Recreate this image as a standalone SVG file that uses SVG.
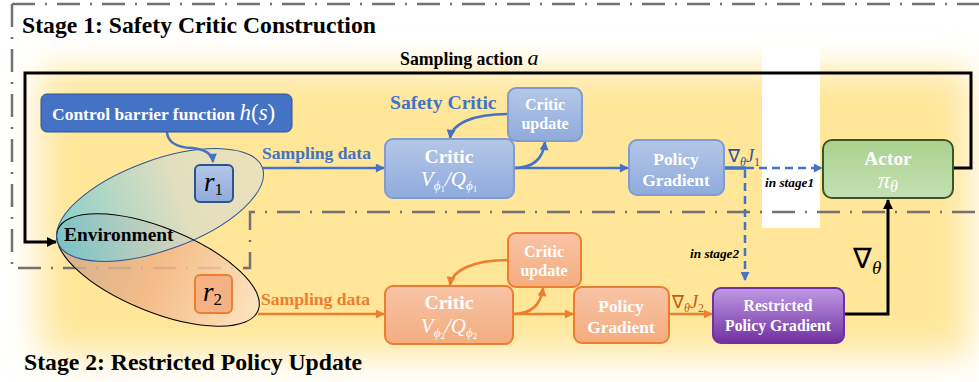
<svg xmlns="http://www.w3.org/2000/svg" width="979" height="382" viewBox="0 0 979 382">
<defs>
<style>
.dd{fill:none;stroke:#767171;stroke-width:2.5;stroke-dasharray:23 10 2 10}
.bl{fill:none;stroke:#4472C4;stroke-width:2.5}
.or{fill:none;stroke:#ED7D31;stroke-width:2.5}
.bk{fill:none;stroke:#000;stroke-width:3}
</style>
<filter id="blur" x="-10%" y="-20%" width="120%" height="140%"><feGaussianBlur stdDeviation="18"/></filter>
<linearGradient id="gBlue" x1="0" y1="0" x2="0" y2="1"><stop offset="0" stop-color="#B4C7E7"/><stop offset="1" stop-color="#8FAADC"/></linearGradient>
<linearGradient id="gOr" x1="0" y1="0" x2="0" y2="1"><stop offset="0" stop-color="#F8C4A6"/><stop offset="1" stop-color="#F4AC7E"/></linearGradient>
<linearGradient id="gGr" x1="0" y1="0" x2="0" y2="1"><stop offset="0" stop-color="#A9D18E"/><stop offset="1" stop-color="#C5E0B4"/></linearGradient>
<linearGradient id="gPu" x1="0" y1="0" x2="0" y2="1"><stop offset="0" stop-color="#C09AE6"/><stop offset="1" stop-color="#7030A0"/></linearGradient>
<linearGradient id="gE1" x1="0" y1="0" x2="1" y2="0"><stop offset="0" stop-color="#5CC8DA"/><stop offset="0.6" stop-color="#D8DCCB"/><stop offset="1" stop-color="#E4DFC4"/></linearGradient>
<linearGradient id="gE2" x1="0" y1="0" x2="1" y2="0"><stop offset="0" stop-color="#C9A88C"/><stop offset="0.5" stop-color="#F2B585"/><stop offset="1" stop-color="#FCE3C4"/></linearGradient>
<marker id="aB" viewBox="0 0 10 10" refX="9" refY="5" markerWidth="10" markerHeight="9" markerUnits="userSpaceOnUse" orient="auto"><path d="M0,0 L10,5 L0,10 z" fill="#4472C4"/></marker>
<marker id="aO" viewBox="0 0 10 10" refX="9" refY="5" markerWidth="10" markerHeight="9" markerUnits="userSpaceOnUse" orient="auto"><path d="M0,0 L10,5 L0,10 z" fill="#ED7D31"/></marker>
<marker id="aK" viewBox="0 0 10 10" refX="9" refY="5" markerWidth="11" markerHeight="10" markerUnits="userSpaceOnUse" orient="auto"><path d="M0,0 L10,5 L0,10 z" fill="#000"/></marker>
</defs>

<rect width="979" height="382" fill="#fff"/>
<!-- background glow -->
<rect x="40" y="70" width="930" height="285" fill="#FFE699" filter="url(#blur)"/>
<rect x="762" y="45" width="58" height="183" fill="#fff"/>

<!-- stage frames -->
<g id="stage1-frame">
<path class="dd" d="M12,4 L979,4 M12,4 L12,268 L250,268 L250,212 L979,212"/>
<text font-family="Liberation Serif" font-weight="bold" x="22" y="33" font-size="23.7">Stage 1: Safety Critic Construction</text>
</g>
<g id="stage2-title">
<text font-family="Liberation Serif" font-weight="bold" x="24" y="370" font-size="23.7">Stage 2: Restricted Policy Update</text>
</g>

<!-- environment ellipses -->
<g id="environment">
<ellipse cx="158" cy="270" rx="108" ry="42" transform="rotate(22 158 270)" fill="url(#gE2)" fill-opacity="0.85"/>
<ellipse cx="160" cy="205" rx="109" ry="45" transform="rotate(-20 160 205)" fill="url(#gE1)" fill-opacity="0.75"/>
<ellipse cx="158" cy="270" rx="108" ry="42" transform="rotate(22 158 270)" fill="none" stroke="#000" stroke-width="1"/>
<ellipse cx="160" cy="205" rx="109" ry="45" transform="rotate(-20 160 205)" fill="none" stroke="#2F5597" stroke-width="1"/>
<text font-family="Liberation Serif" font-weight="bold" x="64" y="241" font-size="19.4">Environment</text>
</g>

<!-- connectors -->
<g id="connectors">
<path class="bk" d="M953,168 L971,168 L971,73 L25,73 L25,242 L56,242" marker-end="url(#aK)"/>
<path class="bk" d="M844,314 L888,314 L888,200" marker-end="url(#aK)"/>
<path class="bl" d="M167,132 Q168,147 192,148 Q212,150 213,162" marker-end="url(#aB)"/>
<path class="bl" d="M263,168 L384,168" marker-end="url(#aB)"/>
<path class="bl" d="M508,114 C472,114 452,124 450,138" marker-end="url(#aB)"/>
<path class="bl" d="M514,168 C533,168 543,159 545,142" marker-end="url(#aB)"/>
<path class="bl" d="M514,168 L628,168" marker-end="url(#aB)"/>
<path d="M724,168 L746,168" stroke="#4472C4" stroke-width="3.5" fill="none"/>
<path class="bl" d="M746,168 L822,168" stroke-dasharray="8 5" marker-end="url(#aB)"/>
<path class="bl" d="M745,170 L745,280" stroke-dasharray="8 5" marker-end="url(#aB)"/>
<path class="or" d="M258,314 L384,314" marker-end="url(#aO)"/>
<path class="or" d="M508,260 C472,260 452,271 450,285" marker-end="url(#aO)"/>
<path class="or" d="M513,314 C532,314 541,304 543,288" marker-end="url(#aO)"/>
<path class="or" d="M513,314 L573,314" marker-end="url(#aO)"/>
<path class="or" d="M669,314 L712,314" marker-end="url(#aO)"/>
</g>

<!-- labels -->
<g id="labels">
<text font-family="Liberation Serif" font-weight="bold" x="400" y="65" font-size="17.8">Sampling action <tspan font-style="italic" font-weight="normal" font-size="22">a</tspan></text>
<text font-family="Liberation Serif" font-weight="bold" x="390" y="109" font-size="19.7" fill="#4472C4">Safety Critic</text>
<text font-family="Liberation Serif" font-weight="bold" x="262" y="159" font-size="17.6" fill="#4472C4">Sampling data</text>
<text font-family="Liberation Serif" font-weight="bold" x="261" y="305" font-size="17.6" fill="#ED7D31">Sampling data</text>
<text font-family="Liberation Serif" font-style="italic" x="728" y="162" font-size="18" fill="#2F5597"><tspan font-style="normal">∇</tspan><tspan font-size="12" dy="4">θ</tspan><tspan dy="-4">J</tspan><tspan font-size="12" dy="4" font-style="normal">1</tspan></text>
<text font-family="Liberation Serif" font-style="italic" x="672" y="308" font-size="18" fill="#C55A11"><tspan font-style="normal">∇</tspan><tspan font-size="12" dy="4">θ</tspan><tspan dy="-4">J</tspan><tspan font-size="12" dy="4" font-style="normal">2</tspan></text>
<text font-family="Liberation Serif" font-weight="bold" font-style="italic" x="765" y="187" font-size="13.3">in stage1</text>
<text font-family="Liberation Serif" font-weight="bold" font-style="italic" x="690" y="258" font-size="13.3">in stage2</text>
<text font-family="Liberation Serif" x="853" y="268" font-size="28">∇<tspan font-size="19" dy="6" font-style="italic">θ</tspan></text>
</g>

<!-- nodes -->
<g id="cbf">
<rect x="41" y="94" width="251" height="38" rx="6" fill="#4472C4" stroke="#2F528F" stroke-width="1"/>
<text font-family="Liberation Serif" font-weight="bold" fill="#fff" x="52" y="120" font-size="17.5">Control barrier function <tspan font-style="italic" font-weight="normal" font-size="23">h</tspan><tspan font-weight="normal" font-size="23">(</tspan><tspan font-style="italic" font-weight="normal" font-size="23">s</tspan><tspan font-weight="normal" font-size="23">)</tspan></text>
</g>
<g id="r1">
<rect x="195" y="165" width="38" height="37" rx="5" fill="url(#gBlue)" stroke="#2F528F" stroke-width="2"/>
<text font-family="Liberation Serif" font-style="italic" x="204" y="191" font-size="27">r<tspan font-size="17" dy="4" font-style="normal">1</tspan></text>
</g>
<g id="r2">
<rect x="195" y="275" width="37" height="38" rx="5" fill="#F4B183" stroke="#ED7D31" stroke-width="2"/>
<text font-family="Liberation Serif" font-style="italic" x="203" y="301" font-size="27">r<tspan font-size="17" dy="4" font-style="normal">2</tspan></text>
</g>
<g id="critic1">
<rect x="385" y="139" width="129" height="59" rx="8" fill="url(#gBlue)" stroke="#7F9CD0" stroke-width="2"/>
<text font-family="Liberation Serif" font-weight="bold" fill="#fff" x="449" y="163" font-size="19.6" text-anchor="middle">Critic</text>
<text font-family="Liberation Serif" font-style="italic" fill="#fff" x="449" y="186" font-size="21" text-anchor="middle">V<tspan font-size="13" dy="4">ϕ</tspan><tspan font-size="9" dy="2" font-style="normal">1</tspan><tspan dy="-6">/Q</tspan><tspan font-size="13" dy="4">ϕ</tspan><tspan font-size="9" dy="2" font-style="normal">1</tspan></text>
</g>
<g id="critic-update1">
<rect x="508" y="88" width="74" height="53" rx="8" fill="url(#gBlue)" stroke="#7F9CD0" stroke-width="2"/>
<text font-family="Liberation Serif" font-weight="bold" fill="#fff" x="545" y="110" font-size="16" text-anchor="middle">Critic</text>
<text font-family="Liberation Serif" font-weight="bold" fill="#fff" x="545" y="129" font-size="16" text-anchor="middle">update</text>
</g>
<g id="policy-gradient1">
<rect x="629" y="140" width="95" height="55" rx="8" fill="url(#gBlue)" stroke="#7F9CD0" stroke-width="2"/>
<text font-family="Liberation Serif" font-weight="bold" fill="#fff" x="676" y="165" font-size="17.4" text-anchor="middle">Policy</text>
<text font-family="Liberation Serif" font-weight="bold" fill="#fff" x="676" y="186" font-size="17.4" text-anchor="middle">Gradient</text>
</g>
<g id="actor">
<rect x="823" y="140" width="130" height="58" rx="9" fill="url(#gGr)" stroke="#385723" stroke-width="2"/>
<text font-family="Liberation Serif" font-weight="bold" fill="#fff" x="888" y="165" font-size="19.4" text-anchor="middle">Actor</text>
<text font-family="Liberation Serif" font-style="italic" fill="#fff" x="888" y="188" font-size="24" text-anchor="middle">π<tspan font-size="16" dy="4">θ</tspan></text>
</g>
<g id="critic2">
<rect x="385" y="286" width="128" height="58" rx="8" fill="url(#gOr)" stroke="#ED7D31" stroke-width="2"/>
<text font-family="Liberation Serif" font-weight="bold" fill="#fff" x="449" y="309" font-size="19.6" text-anchor="middle">Critic</text>
<text font-family="Liberation Serif" font-style="italic" fill="#fff" x="449" y="333" font-size="21" text-anchor="middle">V<tspan font-size="13" dy="4">ϕ</tspan><tspan font-size="9" dy="2" font-style="normal">2</tspan><tspan dy="-6">/Q</tspan><tspan font-size="13" dy="4">ϕ</tspan><tspan font-size="9" dy="2" font-style="normal">2</tspan></text>
</g>
<g id="critic-update2">
<rect x="508" y="233" width="73" height="54" rx="8" fill="url(#gOr)" stroke="#ED7D31" stroke-width="2"/>
<text font-family="Liberation Serif" font-weight="bold" fill="#fff" x="544" y="257" font-size="16" text-anchor="middle">Critic</text>
<text font-family="Liberation Serif" font-weight="bold" fill="#fff" x="544" y="276" font-size="16" text-anchor="middle">update</text>
</g>
<g id="policy-gradient2">
<rect x="574" y="287" width="95" height="56" rx="8" fill="url(#gOr)" stroke="#ED7D31" stroke-width="2"/>
<text font-family="Liberation Serif" font-weight="bold" fill="#fff" x="621" y="312" font-size="17.4" text-anchor="middle">Policy</text>
<text font-family="Liberation Serif" font-weight="bold" fill="#fff" x="621" y="333" font-size="17.4" text-anchor="middle">Gradient</text>
</g>
<g id="restricted-policy-gradient">
<rect x="713" y="288" width="131" height="55" rx="8" fill="url(#gPu)" stroke="#7030A0" stroke-width="2"/>
<text font-family="Liberation Serif" font-weight="bold" fill="#fff" x="778" y="311" font-size="15.7" text-anchor="middle">Restricted</text>
<text font-family="Liberation Serif" font-weight="bold" fill="#fff" x="778" y="331" font-size="15.7" text-anchor="middle">Policy Gradient</text>
</g>
</svg>
